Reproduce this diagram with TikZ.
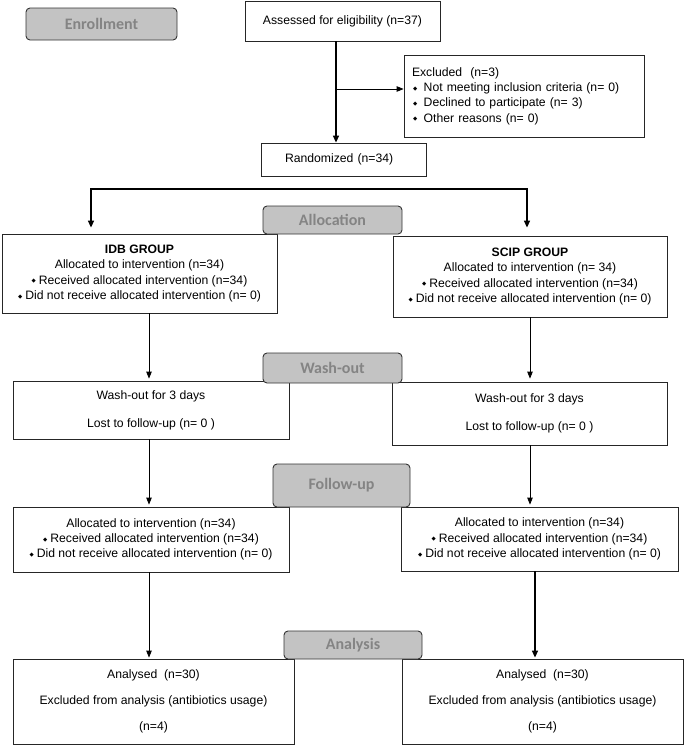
\documentclass[tikz,border=0pt]{standalone}
\usepackage{fontspec}
\setmainfont{Liberation Sans}
\newfontfamily\labfont{Carlito}
\newfontfamily\symfont{DejaVu Sans}
\usetikzlibrary{arrows.meta,calc}
\definecolor{labgray}{HTML}{C3C3C3}
\definecolor{labtext}{HTML}{848484}
\newcommand\dia{\raisebox{1.3pt}{\symfont\fontsize{5.5}{5}\selectfont ◆}\hspace{3pt}}
\newcommand\diab{\hspace{1pt}\raisebox{1.3pt}{\symfont\fontsize{5.5}{5}\selectfont ◆}\hspace{6.5pt}}
\tikzset{
  box/.style={draw=black!85, line width=0.8pt, fill=white, inner sep=0pt, align=center,
    font=\fontsize{12.2}{15.3}\selectfont},
  lab/.style={draw=black!80, line width=0.9pt, fill=labgray, rounded corners=4pt, text=labtext,
    font=\labfont\bfseries\fontsize{16}{18}\selectfont, inner sep=0pt},
  arr/.style={-{Triangle[length=7pt,width=5.5pt]}, line width=0.8pt},
  heavy/.style={-{Triangle[length=7pt,width=6pt]}, line width=1.4pt},
}
\begin{document}
\begin{tikzpicture}[x=1pt,y=-1pt]
\useasboundingbox (0,0) rectangle (685,745);
% main boxes
\node[box, minimum width=195pt, minimum height=40pt] (assess) at (342.5,21) {Assessed for eligibility (n=37)};
\node[box, minimum width=240pt, minimum height=82pt, text width=224pt, align=left, inner xsep=8pt] (excl) at (524,96)
  {Excluded\ \ (n=3)\\ \diab Not meeting inclusion criteria (n= 0)\\ \diab Declined to participate (n= 3)\\ \diab Other reasons (n= 0)};
\node[box, minimum width=165pt, minimum height=33pt, text width=117pt, align=left, inner xsep=24pt] (rand) at (343.5,159.5) {Randomized (n=34)};
\node[box, minimum width=275pt, minimum height=79pt] (idb) at (139.5,273.5)
  {\textbf{IDB GROUP}\\ Allocated to intervention (n=34)\\ \dia Received allocated intervention (n=34)\\ \dia Did not receive allocated intervention (n= 0)};
\node[box, minimum width=274pt, minimum height=81pt] (scip) at (530,276.5)
  {\textbf{SCIP GROUP}\\ Allocated to intervention (n= 34)\\ \dia Received allocated intervention (n=34)\\ \dia Did not receive allocated intervention (n= 0)};
\node[box, minimum width=276pt, minimum height=58pt] (wl) at (151,410)
  {Wash-out for 3 days\\[12.5pt] Lost to follow-up (n= 0 )};
\node[box, minimum width=275pt, minimum height=63pt] (wr) at (529.5,413.5)
  {Wash-out for 3 days\\[12.5pt] Lost to follow-up (n= 0 )};
\node[box, minimum width=276pt, minimum height=65pt] (fl) at (151,539.5)
  {Allocated to intervention (n=34)\\ \dia Received allocated intervention (n=34)\\ \dia Did not receive allocated intervention (n= 0)};
\node[box, minimum width=277pt, minimum height=64pt] (fr) at (539.5,539)
  {Allocated to intervention (n=34)\\ \dia Received allocated intervention (n=34)\\ \dia Did not receive allocated intervention (n= 0)};
\node[box, minimum width=281pt, minimum height=85pt] (al) at (153.5,701.5)
  {Analysed\ \ (n=30)\\[11pt] Excluded from analysis (antibiotics usage)\\[11pt] (n=4)};
\node[box, minimum width=281pt, minimum height=85pt] (ar) at (542.5,701.5)
  {Analysed\ \ (n=30)\\[11pt] Excluded from analysis (antibiotics usage)\\[11pt] (n=4)};
% connectors
\coordinate (A) at (336,0);
\coordinate (B) at (336,89);
\coordinate (SL) at (91,189);
\coordinate (SR) at (527,189);
\coordinate (L) at (149,0);
\coordinate (R) at (530,0);
\coordinate (R2) at (535,0);
\draw[heavy] (assess.south -| A) -- (rand.north -| A);
\draw[arr] (B) -- (B -| excl.west);
\draw[heavy, {Triangle[length=7pt,width=6pt]}-{Triangle[length=7pt,width=6pt]}]
  ($(idb.north -| SL)+(0,-6)$) |- (SR) -- ($(scip.north -| SR)+(0,-8)$);
\draw[arr] (idb.south -| L) -- ($(wl.north -| L)+(0,-2)$);
\draw[arr] (scip.south -| R) -- ($(wr.north -| R)+(0,-3)$);
\draw[arr] (wl.south -| L) -- ($(fl.north -| L)+(0,-2)$);
\draw[arr] (wr.south -| R) -- ($(fr.north -| R)+(0,-2)$);
\draw[arr] (fl.south -| L) -- ($(al.north -| L)+(0,-1)$);
\draw[heavy] (fr.south -| R2) -- ($(ar.north -| R2)+(0,-1)$);
% stage labels
\node[lab, minimum width=151pt, minimum height=32pt] (enr) at (101.5,24) {Enrollment};
\node[lab, minimum width=139pt, minimum height=28pt] (alloc) at (332.5,220) {Allocation};
\node[lab, minimum width=139pt, minimum height=30pt] (wash) at (332.5,368) {Wash-out};
\node[lab, minimum width=137pt, minimum height=43pt] (fu) at (341.5,485.5) {Follow-up};
\node[lab, minimum width=138pt, minimum height=28pt] (ana) at (353,645) {Analysis};
\end{tikzpicture}
\end{document}
